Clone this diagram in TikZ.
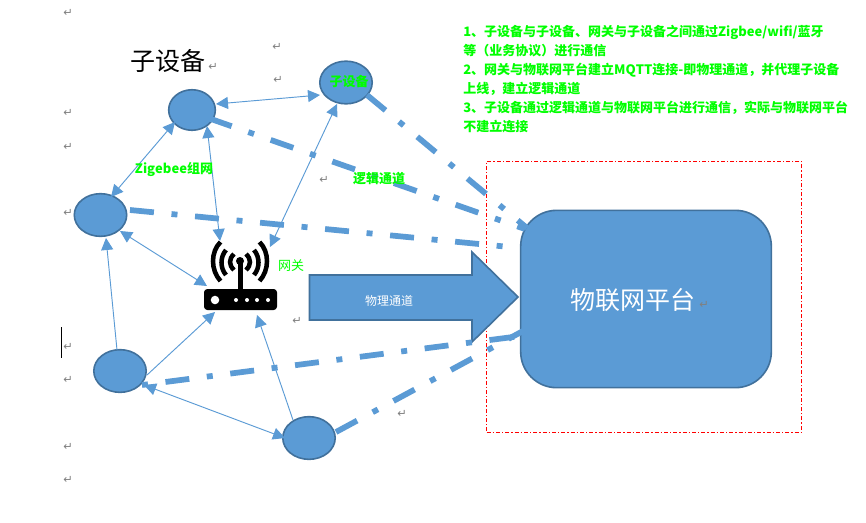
\documentclass[tikz,border=0pt]{standalone}
\usepackage{fontspec}
\setmainfont{Noto Sans CJK SC}[Kerning=Off]
\newfontfamily\retfont{DejaVu Sans}
\usetikzlibrary{arrows.meta,shapes.geometric}
\definecolor{blu}{HTML}{5B9BD5}
\definecolor{bdr}{HTML}{41719C}
\definecolor{grn}{HTML}{00FF00}
\definecolor{retg}{HTML}{808080}
\tikzset{
 x=0.75pt,y=-0.75pt,
 dev/.style={ellipse,draw=bdr,line width=1.2pt,fill=blu,inner sep=0pt},
 bigdev/.style={dev,minimum width=39.3pt,minimum height=32pt},
 link/.style={draw=blu,line width=0.7pt,{Triangle[length=9pt,width=9pt]}-{Triangle[length=9pt,width=9pt]}},
 onelink/.style={draw=blu,line width=0.7pt,-{Triangle[length=9pt,width=9pt]}},
 logic/.style={draw=blu,line width=4.3pt,dash pattern=on 18pt off 13.25pt on 4.5pt off 13.25pt},
 lab/.style={text=grn,font=\bfseries\fontsize{9.75pt}{14.2pt}\selectfont,inner sep=0pt},
 ret/.style={text=retg,font=\retfont\fontsize{8.5pt}{8.5pt}\selectfont,inner sep=0pt},
 bigtext/.style={inner sep=0pt,font=\fontsize{18.75pt}{20pt}\selectfont},
}
\begin{document}
\begin{tikzpicture}
\useasboundingbox (0,0) rectangle (866,522);
\fill[white] (0,0) rectangle (866,522);
% red frame
\node[draw=red,line width=0.6pt,dash pattern=on 3pt off 1.5pt on 1pt off 1.5pt,minimum width=236.25pt,minimum height=203pt,inner sep=0pt] (frame) at (644.2,296.7) {};
% devices
\node[dev,minimum width=35pt,minimum height=30.4pt] (d1) at (192,110) {};
\node[bigdev] (d2) at (346,82.5) {};
\node[bigdev] (d3) at (100.5,215) {};
\node[bigdev] (d4) at (120,371) {};
\node[bigdev] (d5) at (309,438) {};
% platform
\node[draw=bdr,line width=1.2pt,fill=blu,rounded corners=27pt,minimum width=188pt,minimum height=133pt,inner sep=0pt] (plat) at (646,299) {};
\node[bigtext,text=white] (platt) at (632.5,300) {物联网平台};
% gateway
\fill[rounded corners=2.5pt] (204,289) rectangle (277,310);
\fill[white] (215,300) circle (3.2pt);
\foreach \x in {236,247,257,268} \fill[white] (\x,300) circle (1.5pt);
\draw[line width=3.75pt] (240,262) -- (240,291);
\fill (240,261) circle (3pt);
\begin{scope}[line width=3.4pt,line cap=butt]
\draw (234,254) .. controls (228.7,259) and (228.7,265) .. (234,270);
\draw (246,254) .. controls (251.3,259) and (251.3,265) .. (246,270);
\draw (226,250) .. controls (220,257) and (220,268) .. (226,275);
\draw (254,250) .. controls (260,257) and (260,268) .. (254,275);
\draw (220.5,242) .. controls (210.5,252) and (210.5,270) .. (220.5,281);
\draw (259.5,242) .. controls (269.5,252) and (269.5,270) .. (259.5,281);
\end{scope}
% big arrow
\draw[draw=bdr,line width=1.2pt,fill=blu] (309.5,275) -- (472,275) -- (472,252) -- (518,297) -- (472,342) -- (472,320) -- (309.5,320) -- cycle;
% thin links
\coordinate (gwa) at (220,241);
\coordinate (gwb) at (270,247);
\coordinate (gwc) at (207,286);
\coordinate (gwd) at (215,312);
\coordinate (gwe) at (257,315);
\draw[link] (216,104) -- (320,95);
\draw[link] (175,122) -- (111,197);
\draw[link] (207,126) -- (gwa);
\draw[link] (337,104) -- (gwb);
\draw[link] (120,231) -- (gwc);
\draw[onelink] (117,350) -- (106,238);
\draw[onelink] (147,375) -- (gwd);
\draw[onelink] (293,420) -- (gwe);
\draw[link] (144,385) -- (285,438);
% logical
\coordinate (pa) at (525,229);
\coordinate (pb) at (527,228);
\coordinate (pc) at (520,248);
\coordinate (pd) at (513,337);
\coordinate (pe) at (523,331);
\draw[logic] (367,95) -- (pb);
\draw[logic] (209,118.3) -- (pa);
\draw[logic] (130,210) -- (pc);
\draw[logic,dash phase=31.25pt] (142,385) -- (pd) -- (pe);
\draw[logic] (336,432) -- (pe);
% text
\node[inner sep=0pt,text=white,font=\fontsize{9pt}{10pt}\selectfont] (t1) at (389,301) {物理通道};
\node[bigtext] (t2) at (167.5,61) {子设备};
\node[lab] (t3) at (349,82) {子设备};
\node[lab,font=\fontsize{9.75pt}{12pt}\selectfont] (t4) at (291,265.5) {网关};
\node[lab] (t5) at (174,169.5) {Zigebee组网};
\node[lab] (t6) at (379,179) {逻辑通道};
\node[lab,anchor=north west,align=left] (t7) at (463,25) {%
1、子设备与子设备、网关与子设备之间通过Zigbee/wifi/蓝牙\\
等（业务协议）进行通信\\
2、网关与物联网平台建立MQTT连接-即物理通道，并代理子设备\\
上线，建立逻辑通道\\
3、子设备通过逻辑通道与物联网平台进行通信，实际与物联网平台\\
不建立连接};
% return marks
\foreach \i/\p in {a/{68,13},b/{68,113},c/{68,147},d/{68,213},e/{68,347},f/{68,380},g/{68,447},h/{68,480},i/{277,47},j/{278,80},k/{324,180},l/{297,321},m/{402,414},n/{213,67},o/{704,305}}
  \node[ret] (r\i) at (\p) {↵};
% cursor
\draw[line width=1pt] (61.7,327) -- (61.7,358);
\end{tikzpicture}
\end{document}
